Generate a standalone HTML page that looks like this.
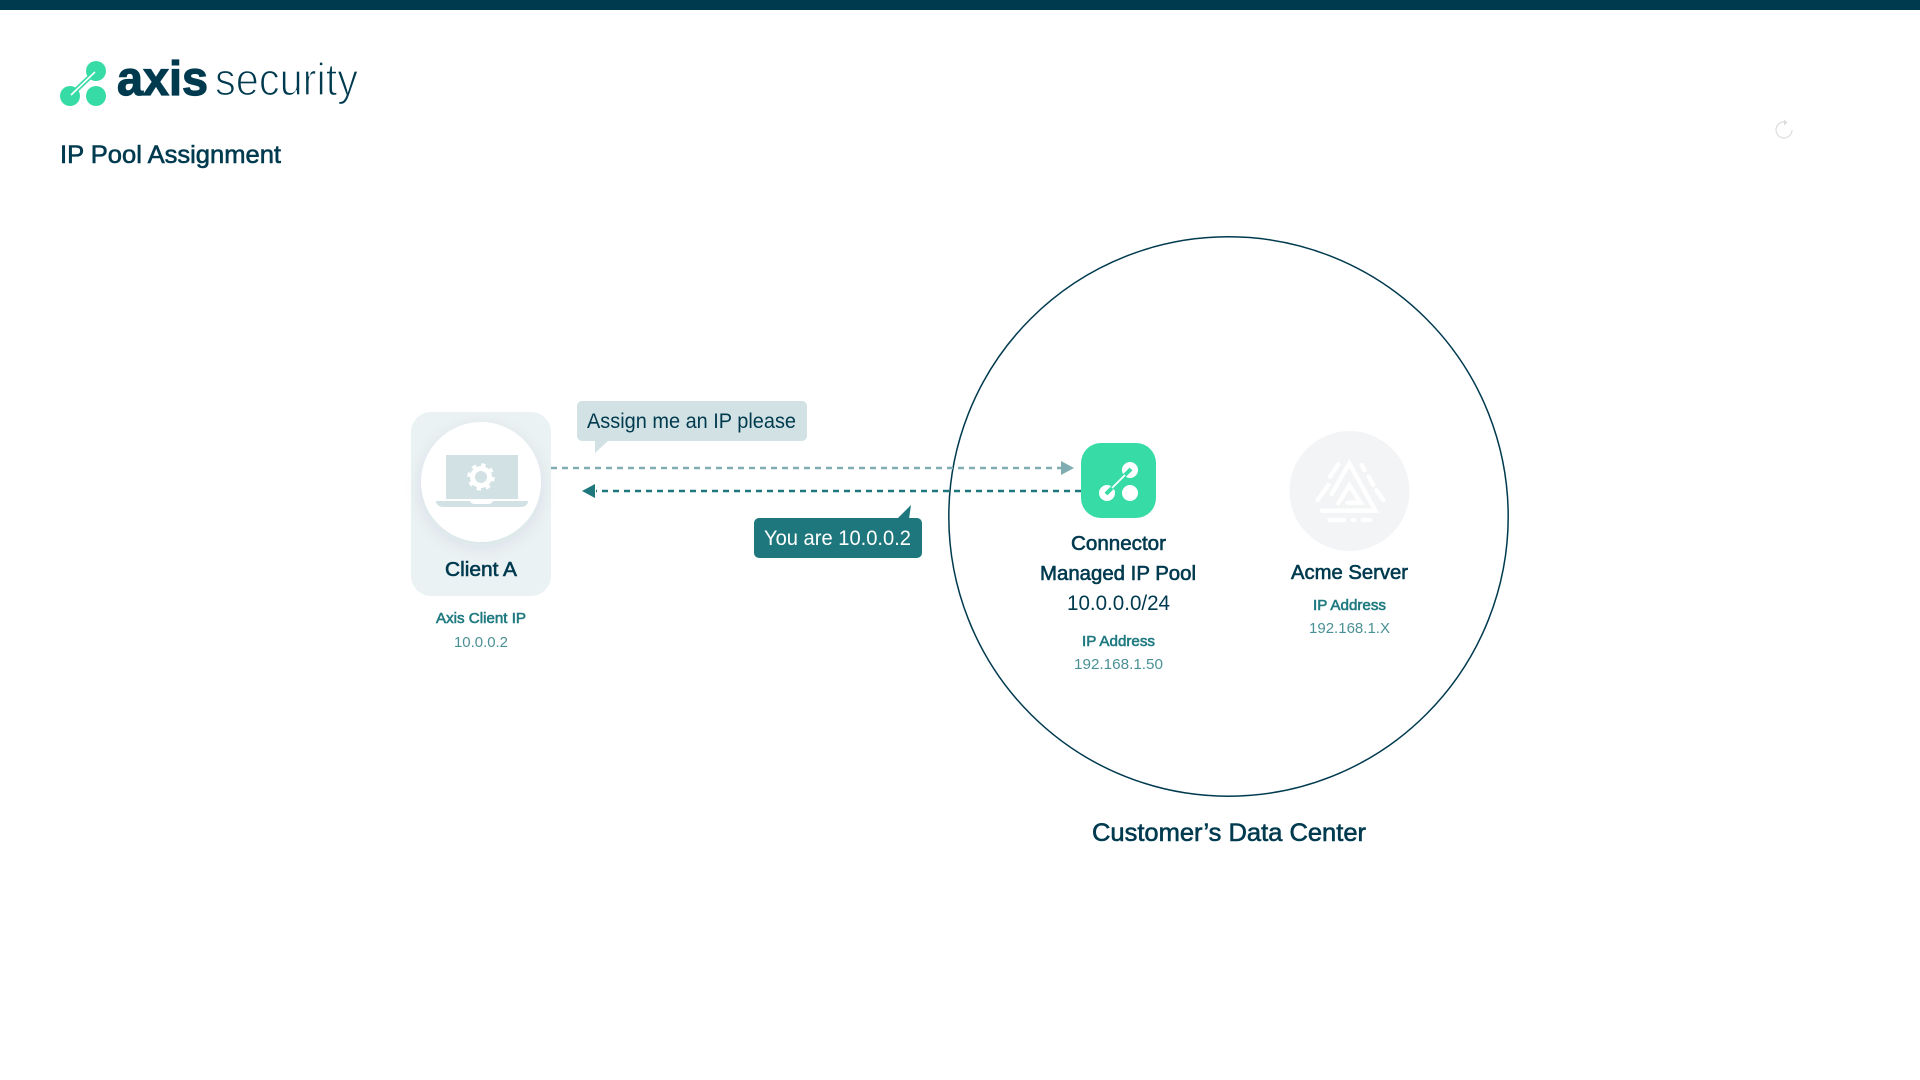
<!DOCTYPE html>
<html lang="en">
<head>
<meta charset="utf-8">
<title>IP Pool Assignment</title>
<style>
html,body{margin:0;padding:0;background:#fff;width:1920px;height:1080px;overflow:hidden}
svg{display:block}
text{font-family:"Liberation Sans",sans-serif}
.m{stroke-width:.6px;stroke:currentColor}
</style>
</head>
<body>
<svg width="1920" height="1080" viewBox="0 0 1920 1080" xmlns="http://www.w3.org/2000/svg">
<defs>
<filter id="sh" x="-30%" y="-30%" width="160%" height="160%">
<feDropShadow dx="0" dy="5" stdDeviation="8" flood-color="#003a4f" flood-opacity=".09"/>
</filter>
</defs>
<rect x="0" y="0" width="1920" height="10" fill="#003a4f"/>

<!-- logo -->
<g>
<circle cx="96" cy="71" r="10" fill="#37dba6"/>
<circle cx="70" cy="96" r="10" fill="#37dba6"/>
<circle cx="96" cy="96" r="10" fill="#37dba6"/>
<line x1="72" y1="94" x2="94" y2="73" stroke="#37dba6" stroke-width="5"/>
<line x1="71" y1="95" x2="95" y2="72" stroke="#fff" stroke-width="1.6"/>
</g>
<text x="117" y="95" font-size="48" font-weight="700" fill="#003a4f" stroke="#003a4f" stroke-width="1.2" textLength="91" lengthAdjust="spacingAndGlyphs">axis</text>
<text x="215" y="95" font-size="45" fill="#003a4f" stroke="#fff" stroke-width="1.3" textLength="143" lengthAdjust="spacingAndGlyphs">security</text>

<text x="60" y="163" font-size="25" fill="#003a4f" color="#003a4f" class="m" textLength="221" lengthAdjust="spacingAndGlyphs">IP Pool Assignment</text>

<!-- reload -->
<g fill="none" stroke="#dcdcdc" stroke-width="1.2">
<path d="M1787 122.5 A8 8 0 1 0 1792 130"/>
<path d="M1784 119.5 L1787.5 122.5 L1784 125.5" fill="#dcdcdc" stroke="none"/>
</g>

<!-- data centre circle -->
<circle cx="1228.5" cy="516.5" r="279.7" fill="none" stroke="#003a4f" stroke-width="1.5"/>

<!-- client card -->
<rect x="411" y="412" width="140" height="184" rx="20" fill="#ebf2f4"/>
<circle cx="481" cy="482" r="60" fill="#fff" filter="url(#sh)"/>
<rect x="446" y="455" width="72" height="44" fill="#d2e1e3"/>
<path d="M436 501 H528 V502 Q527 507 520 507 H444 Q437 507 436 502 Z" fill="#d2e1e3"/>
<path d="M470 501 H493 Q492 504 488 504 H475 Q471 504 470 501Z" fill="#fff"/>
<circle cx="481" cy="477" r="8.5" fill="none" stroke="#fff" stroke-width="5"/>
<circle cx="481" cy="477" r="12" fill="none" stroke="#fff" stroke-width="3.4" stroke-dasharray="4.2 5.2"/>
<text x="445" y="576" font-size="20" fill="#003a4f" color="#003a4f" class="m" textLength="72" lengthAdjust="spacingAndGlyphs">Client A</text>
<text x="436" y="623" font-size="15" fill="#1f7a80" color="#1f7a80" class="m" textLength="90" lengthAdjust="spacingAndGlyphs">Axis Client IP</text>
<text x="454" y="647" font-size="15" fill="#4a9196" textLength="54" lengthAdjust="spacingAndGlyphs">10.0.0.2</text>

<!-- connectors -->
<line x1="551" y1="468" x2="1061" y2="468" stroke="#7fadb1" stroke-width="2.4" stroke-dasharray="6 5"/>
<path d="M1061 461 L1074 468 L1061 475 Z" fill="#7fadb1"/>
<line x1="1081" y1="491" x2="596" y2="491" stroke="#1f777e" stroke-width="2.4" stroke-dasharray="6 5"/>
<path d="M595 484 L582 491 L595 498 Z" fill="#1f777e"/>

<!-- bubbles -->
<rect x="577" y="401" width="230" height="40" rx="5" fill="#d2e1e3"/>
<path d="M595 439 V453 L609 440 Z" fill="#d2e1e3"/>
<text x="587" y="428" font-size="21" fill="#003a4f" textLength="209" lengthAdjust="spacingAndGlyphs">Assign me an IP please</text>
<rect x="754" y="518" width="168" height="40" rx="5" fill="#1f777e"/>
<path d="M897 519 L911 505 L909 519 Z" fill="#1f777e"/>
<text x="764" y="545" font-size="21" fill="#fff" textLength="147" lengthAdjust="spacingAndGlyphs">You are 10.0.0.2</text>

<!-- connector node -->
<rect x="1081" y="443" width="75" height="75" rx="20" fill="#37dba6"/>
<circle cx="1130" cy="470" r="8" fill="#fff"/>
<circle cx="1107" cy="493" r="8" fill="#fff"/>
<circle cx="1130" cy="493" r="8" fill="#fff"/>
<line x1="1106" y1="494" x2="1131" y2="469" stroke="#37dba6" stroke-width="4"/>
<line x1="1112" y1="488" x2="1125" y2="475" stroke="#fff" stroke-width="1.8"/>
<text x="1071" y="550" font-size="20" fill="#003a4f" color="#003a4f" class="m" textLength="95" lengthAdjust="spacingAndGlyphs">Connector</text>
<text x="1040" y="580" font-size="20" fill="#003a4f" color="#003a4f" class="m" textLength="156" lengthAdjust="spacingAndGlyphs">Managed IP Pool</text>
<text x="1067" y="610" font-size="21" fill="#003a4f" textLength="103" lengthAdjust="spacingAndGlyphs">10.0.0.0/24</text>
<text x="1082" y="646" font-size="15" fill="#1f7a80" color="#1f7a80" class="m" textLength="73" lengthAdjust="spacingAndGlyphs">IP Address</text>
<text x="1074" y="669" font-size="15" fill="#4a9196" textLength="89" lengthAdjust="spacingAndGlyphs">192.168.1.50</text>

<!-- acme node -->
<circle cx="1349.5" cy="491" r="60" fill="#f3f4f5"/>
<g transform="translate(1020 420) scale(.33333)" fill="none" stroke="#fff" stroke-width="13" stroke-linecap="round" stroke-linejoin="miter">
<path d="M905 272 H1066 L988 130 L935 222"/>
<path d="M955 250 L988 196 L1022 248 H982"/>
<path d="M955 133 L930 170 M925 195 L893 240 M1025 135 L1033 150 M1046 170 L1060 195 M1069 210 L1090 240"/>
<path d="M928 300 H972 M998 300 H1003 M1028 300 H1050"/>
</g>
<text x="1291" y="579" font-size="20" fill="#003a4f" color="#003a4f" class="m" textLength="117" lengthAdjust="spacingAndGlyphs">Acme Server</text>
<text x="1313" y="610" font-size="15" fill="#1f7a80" color="#1f7a80" class="m" textLength="73" lengthAdjust="spacingAndGlyphs">IP Address</text>
<text x="1309" y="633" font-size="15" fill="#4a9196" textLength="81" lengthAdjust="spacingAndGlyphs">192.168.1.X</text>

<text x="1092" y="841" font-size="25" fill="#003a4f" color="#003a4f" class="m" textLength="274" lengthAdjust="spacingAndGlyphs">Customer’s Data Center</text>
</svg>
</body>
</html>
